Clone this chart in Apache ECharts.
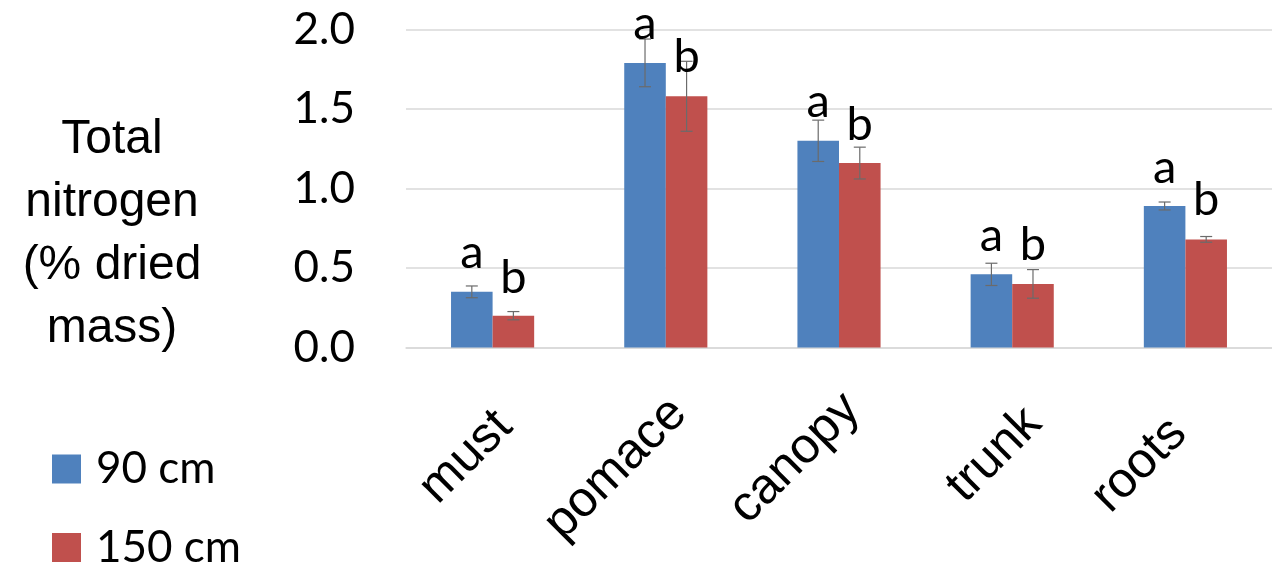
<!DOCTYPE html>
<html>
<head>
<meta charset="utf-8">
<script src="https://cdn.jsdelivr.net/npm/echarts@6/dist/echarts.min.js"></script>
<style>
  html, body { margin: 0; padding: 0; background: #ffffff; }
  #chart { width: 1272px; height: 566px; }
</style>
</head>
<body>
<div id="chart"></div>
<script>
// Total nitrogen by plant part, for two vine spacings
const categories = ['must', 'pomace', 'canopy', 'trunk', 'roots'];
const seriesNames = ['90 cm', '150 cm'];
const nitrogen90 = [0.35, 1.79, 1.30, 0.46, 0.89];
const nitrogen150 = [0.20, 1.58, 1.16, 0.40, 0.68];
const error90 = [0.037, 0.15, 0.13, 0.07, 0.025];
const error150 = [0.026, 0.22, 0.10, 0.09, 0.018];
const letters90 = ['a', 'a', 'a', 'a', 'a'];
const letters150 = ['b', 'b', 'b', 'b', 'b'];
const yAxisTitle = 'Total\nnitrogen\n(% dried\nmass)';

// ---- layout ----
const BLUE = '#4f81bd';
const RED = '#c0504d';
const BAR_FRACTION = 0.24;                   // each bar's width as a share of the category band
const letterLift90 = [19, 1, 4, 13, 20];     // gap (px) between error cap and letter baseline
const letterLift150 = [19, -10, 8, 10, 22];
// padding [top, right, bottom, left] nudging each rotated category label
const categoryLabelPadding = [
  [60, 13, 0, 0],
  [43, 3, 0, 0],
  [37, 0, 0, 0],
  [69, 4, 0, 0],
  [44, 31, 0, 0]
];
const CATEGORY_FONT = { fontFamily: 'Liberation Sans', fontSize: 50, color: '#000000' };
const LEGEND_TEXT = { fontFamily: 'Lato', fontSize: 44, color: '#000000', padding: [0, 0, 0, 10], lineHeight: 29 };

const chart = echarts.init(document.getElementById('chart'), null, { renderer: 'canvas' });

function errorSeries(name, values, errors, letters, lift, side) {
  return {
    type: 'custom',
    name: name,
    z: 5,
    silent: true,
    data: values.map((v, i) => [i, v, errors[i]]),
    encode: { x: 0, y: 1 },
    renderItem: function (params, api) {
      const i = api.value(0);
      const v = api.value(1);
      const e = api.value(2);
      const band = api.size([1, 0])[0];
      const x = api.coord([i, v])[0] + side * band * BAR_FRACTION / 2;
      const yHi = api.coord([i, v + e])[1];
      const yLo = api.coord([i, v - e])[1];
      const cap = 6;
      const ls = { stroke: '#6b6b6b', lineWidth: 1.2 };
      return {
        type: 'group',
        children: [
          { type: 'line', shape: { x1: x, y1: yHi, x2: x, y2: yLo }, style: ls },
          { type: 'line', shape: { x1: x - cap, y1: yHi, x2: x + cap, y2: yHi }, style: ls },
          { type: 'line', shape: { x1: x - cap, y1: yLo, x2: x + cap, y2: yLo }, style: ls },
          {
            type: 'text',
            x: x,
            y: yHi - lift[params.dataIndex] + 9,
            style: {
              text: letters[params.dataIndex],
              align: 'center',
              verticalAlign: 'bottom',
              font: '47px Lato',
              fill: '#000000'
            }
          }
        ]
      };
    }
  };
}

function legendFor(name, top) {
  return {
    data: [name],
    orient: 'vertical',
    left: 52,
    top: top,
    padding: 0,
    icon: 'rect',
    itemWidth: 29,
    itemHeight: 29,
    selectedMode: false,
    formatter: n => '{t|' + n + '}',
    textStyle: { rich: { t: LEGEND_TEXT } }
  };
}

const categoryRich = {};
categoryLabelPadding.forEach((p, i) => {
  categoryRich['c' + i] = Object.assign({ padding: p }, CATEGORY_FONT);
});

const option = {
  animation: false,
  backgroundColor: '#ffffff',
  grid: { left: 406, right: -17.5, top: 29.5, bottom: 218.5, containLabel: false },
  legend: [legendFor(seriesNames[0], 447), legendFor(seriesNames[1], 525.5)],
  graphic: [
    {
      type: 'text',
      x: 112,
      y: 234,
      style: {
        text: yAxisTitle,
        align: 'center',
        verticalAlign: 'middle',
        font: '48px "Liberation Sans"',
        lineHeight: 63,
        fill: '#000000'
      }
    }
  ],
  xAxis: {
    type: 'category',
    data: categories,
    axisTick: { show: false },
    axisLine: { lineStyle: { color: '#d9d9d9', width: 1.5 } },
    axisLabel: {
      interval: 0,
      rotate: 45,
      margin: 41,
      formatter: (v, idx) => '{c' + idx + '|' + v + '}',
      rich: categoryRich
    }
  },
  yAxis: {
    type: 'value',
    min: 0,
    max: 2,
    interval: 0.5,
    axisLine: { show: false },
    axisTick: { show: false },
    splitLine: { lineStyle: { color: '#d9d9d9', width: 1.5 } },
    axisLabel: {
      margin: 51,
      fontFamily: 'Lato',
      fontSize: 44,
      color: '#000000',
      formatter: v => v.toFixed(1)
    }
  },
  series: [
    {
      name: seriesNames[0],
      type: 'bar',
      data: nitrogen90,
      barGap: '0%',
      barCategoryGap: '52%',
      itemStyle: { color: BLUE }
    },
    {
      name: seriesNames[1],
      type: 'bar',
      data: nitrogen150,
      barGap: '0%',
      barCategoryGap: '52%',
      itemStyle: { color: RED }
    },
    errorSeries('90 cm error', nitrogen90, error90, letters90, letterLift90, -1),
    errorSeries('150 cm error', nitrogen150, error150, letters150, letterLift150, 1)
  ]
};

chart.setOption(option);
</script>
</body>
</html>
